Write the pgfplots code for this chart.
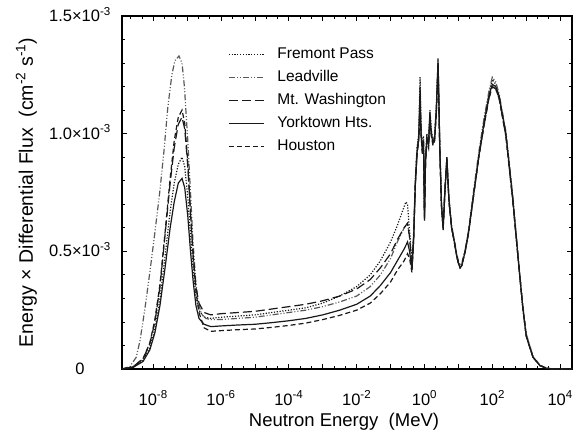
\documentclass[border=0pt]{standalone}
\usepackage{fontspec}
\setmainfont{Liberation Sans}
\usepackage{pgfplots}
\pgfplotsset{compat=1.18}
\begin{document}
\begin{tikzpicture}
\useasboundingbox (-122pt,-67pt) rectangle (458pt,369pt);
\begin{axis}[
 scale only axis, width=450pt, height=353pt,
 at={(0,0)}, anchor=south west,
 xmin=-8.92, xmax=4.35, ymin=0, ymax=1.5,
 xtick={-8,-6,-4,-2,0,2,4},
 xticklabels={10\textsuperscript{-8},10\textsuperscript{-6},10\textsuperscript{-4},10\textsuperscript{-2},10\textsuperscript{0},10\textsuperscript{2},10\textsuperscript{4}},
 extra x ticks={-7,-5,-3,-1,1,3},
 extra x tick labels={},
 minor xtick={-8.667,-8.333,-7.667,-7.333,-6.667,-6.333,-5.667,-5.333,-4.667,-4.333,-3.667,-3.333,-2.667,-2.333,-1.667,-1.333,-0.667,-0.333,0.333,0.667,1.333,1.667,2.333,2.667,3.333,3.667,4.333},
 ytick={0,0.5,1,1.5},
 yticklabels={0,0.5×10\textsuperscript{-3},1.0×10\textsuperscript{-3},1.5×10\textsuperscript{-3}},
 minor y tick num=4,
 tick align=inside,
 major tick length=5pt, minor tick length=3pt,
 every tick/.style={black, line width=0.8pt},
 axis line style={black, line width=1.1pt},
 ticklabel style={font=\fontsize{16.5}{19}\selectfont},
 xticklabel style={anchor=base, yshift=-36pt},
 yticklabel style={anchor=base, xshift=-42pt, yshift=-5.5pt},
 xlabel={Neutron Energy\ \ (MeV)},
 ylabel={Energy × Differential Flux\ \ (cm\textsuperscript{-2} s\textsuperscript{-1})},
 xlabel style={font=\fontsize{18.5}{22}\selectfont, at={(axis description cs:0.5,0)}, anchor=base, yshift=-57pt, xshift=-3pt, inner sep=0pt},
 ylabel style={font=\fontsize{19.5}{22}\selectfont, at={([xshift=-89pt]axis description cs:0,0.5)}, anchor=base, inner sep=0pt},
 legend style={draw=none, fill=none, at={(axis description cs:0.2356,0.912)}, anchor=north west,
   font=\fontsize{15.5}{18}\selectfont, row sep=8pt, column sep=13pt, inner sep=0pt,
   nodes={inner sep=0pt, text height=11pt, text depth=4pt}},
 legend cell align=left,
 legend image code/.code={\draw[#1] (0pt,0pt) -- (35pt,0pt);},
 every axis plot/.append style={line width=1.2pt, black!90},
]
% Fremont Pass (dotted)
\addplot[dash pattern=on 1.2pt off 1.6pt] table {
-8.92 0
-8.6 0.007
-8.3 0.036
-8.1 0.09
-7.95 0.17
-7.8 0.30
-7.65 0.48
-7.5 0.67
-7.38 0.79
-7.26 0.87
-7.15 0.90
-7.07 0.86
-6.98 0.73
-6.9 0.57
-6.82 0.42
-6.74 0.31
-6.65 0.25
-6.5 0.22
-6.3 0.215
-6.0 0.22
-5.5 0.225
-5.0 0.23
-4.5 0.24
-4.0 0.25
-3.5 0.26
-3.0 0.28
-2.5 0.31
-2.0 0.35
-1.6 0.40
-1.3 0.46
-1.0 0.54
-0.8 0.61
-0.65 0.67
-0.55 0.71
-0.50 0.70
-0.46 0.62
-0.42 0.55
-0.37 0.45
-0.32 0.58
-0.27 0.81
-0.22 0.94
-0.17 1.00
-0.13 1.24
-0.10 1.02
-0.06 0.94
-0.03 0.99
0.00 0.65
0.03 0.90
0.07 1.00
0.12 0.97
0.16 1.10
0.20 1.02
0.25 0.97
0.30 0.99
0.35 1.11
0.40 1.30
0.45 0.95
0.50 0.70
0.55 0.60
0.60 0.76
0.66 0.90
0.72 0.72
0.80 0.60
0.88 0.54
0.95 0.48
1.00 0.45
1.05 0.43
1.10 0.44
1.20 0.50
1.30 0.58
1.45 0.75
1.60 0.91
1.75 1.05
1.90 1.17
2.00 1.23
2.10 1.21
2.20 1.16
2.40 1.00
2.60 0.73
2.80 0.41
2.90 0.26
3.00 0.14
3.20 0.05
3.40 0.015
3.60 0.003
3.80 0.0
4.35 0.0
};
% Leadville (dash dot dot)
\addplot[black!65, dash pattern=on 6pt off 2pt on 1pt off 2pt on 1pt off 2pt] table {
-8.92 0.0
-8.69 0.01
-8.5 0.05
-8.39 0.12
-8.25 0.25
-8.10 0.41
-7.95 0.58
-7.80 0.76
-7.68 0.93
-7.57 1.11
-7.45 1.25
-7.36 1.31
-7.24 1.33
-7.15 1.30
-7.08 1.20
-6.98 0.97
-6.90 0.75
-6.83 0.55
-6.75 0.38
-6.68 0.29
-6.58 0.235
-6.45 0.215
-6.3 0.21
-6.0 0.21
-5.5 0.215
-5.0 0.22
-4.5 0.23
-4.0 0.24
-3.5 0.25
-3.0 0.265
-2.5 0.285
-2.0 0.31
-1.6 0.35
-1.3 0.40
-1.0 0.47
-0.8 0.54
-0.6 0.60
-0.5 0.62
-0.44 0.56
-0.37 0.44
-0.32 0.57
-0.27 0.80
-0.22 0.93
-0.17 0.99
-0.13 1.16
-0.10 1.01
-0.06 0.93
-0.03 0.98
0.00 0.66
0.03 0.89
0.07 0.99
0.12 0.96
0.16 1.08
0.20 1.01
0.25 0.97
0.30 0.99
0.35 1.12
0.40 1.31
0.45 0.96
0.50 0.71
0.55 0.61
0.60 0.76
0.66 0.89
0.72 0.73
0.80 0.61
0.88 0.55
0.95 0.49
1.00 0.46
1.05 0.44
1.10 0.45
1.20 0.51
1.30 0.59
1.45 0.76
1.60 0.92
1.75 1.06
1.90 1.18
2.00 1.24
2.10 1.22
2.20 1.17
2.40 1.01
2.60 0.74
2.80 0.42
2.90 0.27
3.00 0.15
3.20 0.055
3.40 0.017
3.60 0.004
3.80 0.0
4.35 0.0
};
% Mt. Washington (long dash)
\addplot[dash pattern=on 9pt off 4pt] table {
-8.92 0
-8.6 0.009
-8.3 0.043
-8.1 0.107
-7.95 0.20
-7.8 0.35
-7.65 0.57
-7.5 0.79
-7.38 0.94
-7.26 1.04
-7.15 1.07
-7.07 1.02
-6.98 0.86
-6.9 0.66
-6.82 0.48
-6.74 0.35
-6.65 0.28
-6.5 0.24
-6.3 0.23
-6.0 0.235
-5.5 0.24
-5.0 0.245
-4.5 0.255
-4.0 0.265
-3.5 0.275
-3.0 0.29
-2.5 0.31
-2.0 0.34
-1.6 0.38
-1.3 0.43
-1.0 0.49
-0.8 0.55
-0.6 0.60
-0.5 0.62
-0.44 0.56
-0.37 0.43
-0.32 0.56
-0.27 0.79
-0.22 0.92
-0.17 0.98
-0.13 1.10
-0.10 1.00
-0.06 0.92
-0.03 0.97
0.00 0.64
0.03 0.88
0.07 0.98
0.12 0.95
0.16 1.07
0.20 1.00
0.25 0.96
0.30 0.98
0.35 1.10
0.40 1.28
0.45 0.94
0.50 0.70
0.55 0.60
0.60 0.75
0.66 0.89
0.72 0.72
0.80 0.60
0.88 0.54
0.95 0.48
1.00 0.45
1.05 0.43
1.10 0.44
1.20 0.50
1.30 0.58
1.45 0.74
1.60 0.90
1.75 1.03
1.90 1.15
2.00 1.20
2.10 1.19
2.20 1.15
2.40 0.99
2.60 0.72
2.80 0.41
2.90 0.26
3.00 0.14
3.20 0.05
3.40 0.015
3.60 0.003
3.80 0.0
4.35 0.0
};
% Yorktown Hts. (solid)
\addplot[solid] table {
-8.92 0
-8.6 0.006
-8.3 0.032
-8.1 0.081
-7.95 0.154
-7.8 0.27
-7.65 0.43
-7.5 0.60
-7.38 0.71
-7.26 0.79
-7.15 0.81
-7.07 0.77
-6.98 0.65
-6.9 0.50
-6.82 0.37
-6.74 0.27
-6.65 0.215
-6.5 0.19
-6.3 0.18
-6.0 0.183
-5.5 0.187
-5.0 0.19
-4.5 0.197
-4.0 0.205
-3.5 0.215
-3.0 0.23
-2.5 0.25
-2.0 0.275
-1.6 0.31
-1.3 0.355
-1.0 0.41
-0.8 0.46
-0.6 0.51
-0.5 0.54
-0.44 0.50
-0.37 0.42
-0.32 0.55
-0.27 0.78
-0.22 0.92
-0.17 0.98
-0.13 1.20
-0.10 1.00
-0.06 0.92
-0.03 0.97
0.00 0.63
0.03 0.88
0.07 0.98
0.12 0.95
0.16 1.09
0.20 1.00
0.25 0.96
0.30 0.98
0.35 1.10
0.40 1.32
0.45 0.95
0.50 0.70
0.55 0.59
0.60 0.75
0.66 0.90
0.72 0.72
0.80 0.60
0.88 0.54
0.95 0.48
1.00 0.45
1.05 0.43
1.10 0.44
1.20 0.50
1.30 0.58
1.45 0.74
1.60 0.90
1.75 1.04
1.90 1.16
2.00 1.21
2.10 1.20
2.20 1.16
2.40 1.00
2.60 0.73
2.80 0.41
2.90 0.26
3.00 0.14
3.20 0.05
3.40 0.015
3.60 0.003
3.80 0.0
4.35 0.0
};
% Houston (short dash)
\addplot[dash pattern=on 5pt off 3pt] table {
-8.92 0
-8.6 0.009
-8.3 0.044
-8.1 0.11
-7.95 0.21
-7.8 0.36
-7.65 0.58
-7.5 0.81
-7.38 0.97
-7.26 1.07
-7.15 1.10
-7.07 1.045
-6.98 0.88
-6.9 0.67
-6.82 0.48
-6.74 0.33
-6.65 0.24
-6.5 0.175
-6.3 0.16
-6.0 0.163
-5.5 0.167
-5.0 0.17
-4.5 0.177
-4.0 0.185
-3.5 0.195
-3.0 0.21
-2.5 0.228
-2.0 0.25
-1.6 0.28
-1.3 0.32
-1.0 0.37
-0.8 0.42
-0.6 0.46
-0.5 0.49
-0.44 0.47
-0.37 0.41
-0.32 0.55
-0.27 0.78
-0.22 0.91
-0.17 0.97
-0.13 1.12
-0.10 0.99
-0.06 0.91
-0.03 0.96
0.00 0.64
0.03 0.87
0.07 0.97
0.12 0.94
0.16 1.07
0.20 0.99
0.25 0.95
0.30 0.97
0.35 1.09
0.40 1.29
0.45 0.94
0.50 0.69
0.55 0.60
0.60 0.74
0.66 0.89
0.72 0.71
0.80 0.60
0.88 0.54
0.95 0.48
1.00 0.45
1.05 0.43
1.10 0.44
1.20 0.50
1.30 0.58
1.45 0.74
1.60 0.90
1.75 1.03
1.90 1.15
2.00 1.20
2.10 1.19
2.20 1.15
2.40 0.99
2.60 0.72
2.80 0.41
2.90 0.26
3.00 0.14
3.20 0.05
3.40 0.015
3.60 0.003
3.80 0.0
4.35 0.0
};
\legend{Fremont Pass, Leadville, Mt. Washington, Yorktown Hts., Houston}
\end{axis}
\end{tikzpicture}
\end{document}
